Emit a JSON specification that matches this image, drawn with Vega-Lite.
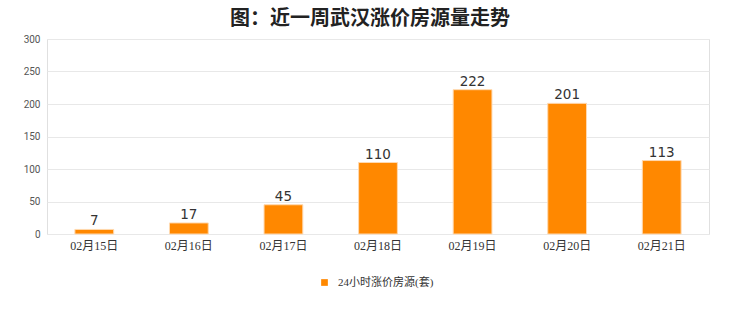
{
  "$schema": "https://vega.github.io/schema/vega-lite/v6.json",
  "width": 662,
  "height": 195,
  "autosize": "none",
  "padding": {"left": 47, "top": 39, "right": 31, "bottom": 78},
  "background": "#ffffff",
  "title": {
    "text": "图：近一周武汉涨价房源量走势",
    "font": "Noto Sans CJK SC",
    "fontSize": 20,
    "fontWeight": "bold",
    "color": "#222222",
    "anchor": "middle",
    "dx": -8,
    "offset": 5
  },
  "data": {
    "values": [
      {"date": "02月15日", "value": 7},
      {"date": "02月16日", "value": 17},
      {"date": "02月17日", "value": 45},
      {"date": "02月18日", "value": 110},
      {"date": "02月19日", "value": 222},
      {"date": "02月20日", "value": 201},
      {"date": "02月21日", "value": 113}
    ]
  },
  "encoding": {
    "x": {
      "field": "date",
      "type": "nominal",
      "sort": null,
      "scale": {"paddingInner": 0.59, "paddingOuter": 0.295},
      "axis": {
        "title": null,
        "labelAngle": 0,
        "ticks": false,
        "domain": false,
        "labelFont": "Liberation Serif, Noto Sans CJK SC",
        "labelFontSize": 12,
        "labelColor": "#333333",
        "labelPadding": 6
      }
    },
    "y": {
      "field": "value",
      "type": "quantitative",
      "scale": {"domain": [0, 300]},
      "axis": {
        "title": null,
        "values": [0, 50, 100, 150, 200, 250, 300],
        "grid": true,
        "gridColor": "#e8e8e8",
        "domain": false,
        "ticks": false,
        "labelFont": "Roboto",
        "labelFontSize": 10,
        "labelColor": "#555555",
        "labelPadding": 7
      }
    }
  },
  "layer": [
    {
      "mark": {"type": "bar", "stroke": "#ffd9b0", "strokeWidth": 1},
      "encoding": {
        "color": {
          "datum": "24小时涨价房源(套)",
          "type": "nominal",
          "scale": {"range": ["#FF8800"]},
          "legend": {
            "title": null,
            "orient": "none",
            "legendX": 272,
            "legendY": 238,
            "symbolType": "square",
            "symbolSize": 45,
            "symbolStrokeWidth": 0,
            "labelFont": "Liberation Serif, Noto Sans CJK SC",
            "labelFontSize": 11,
            "labelColor": "#333333",
            "labelOffset": 8
          }
        }
      }
    },
    {
      "mark": {"type": "text", "dy": -8, "font": "DejaVu Sans", "fontSize": 13.5, "color": "#333333"},
      "encoding": {"text": {"field": "value", "type": "quantitative"}}
    }
  ],
  "config": {
    "view": {"stroke": "#e0e0e0"}
  }
}
